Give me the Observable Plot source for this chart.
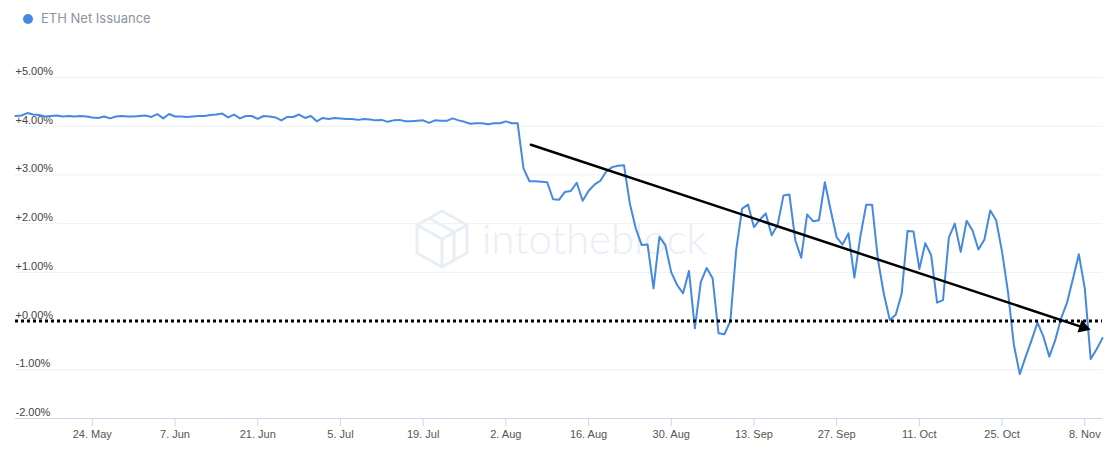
<!DOCTYPE html>
<html><head><meta charset="utf-8">
<script src="https://cdn.jsdelivr.net/npm/d3@7"></script>
<script src="https://cdn.jsdelivr.net/npm/@observablehq/plot@0.6"></script>
<style>
body{margin:0;background:#fff;}
#wrap{position:relative;width:1119px;height:458px;overflow:hidden;background:#fff;}
#legend{position:absolute;left:0;top:0;height:40px;width:100%;font-family:Inter,"Liberation Sans",sans-serif;font-size:13px;color:#8a93a0;}
#legend .dot{position:absolute;left:23px;top:14px;width:10px;height:10px;border-radius:50%;background:#4589e0;}
#legend .lab{position:absolute;left:41px;top:10px;line-height:16px;}
#wm{position:absolute;left:414px;top:208px;width:300px;height:64px;}
#wm svg{position:absolute;left:0;top:0;}
#wm .t{position:absolute;left:68px;top:4px;font-family:Lato,sans-serif;font-weight:300;font-size:42px;color:#e9eef4;line-height:52px;}
#chart{position:absolute;left:0;top:40px;}
#chart svg{display:block;}
</style></head>
<body>
<div id="wrap">
  <div id="wm">
    <svg width="56" height="62" viewBox="0 0 56 62"><g fill="none" stroke="#e9eef4" stroke-width="3" stroke-linejoin="round">
      <polygon points="28,3 53,17 53,45 28,59 3,45 3,17"/>
      <polyline points="3,17 28,31 53,17"/>
      <line x1="28" y1="31" x2="28" y2="59"/>
      <line x1="15" y1="10" x2="40" y2="24"/>
      <line x1="40" y1="24" x2="40" y2="52"/>
    </g></svg>
    <div class="t">intotheblock</div>
  </div>
  <div id="legend"><span class="dot"></span><span class="lab">ETH Net Issuance</span></div>
  <div id="chart"></div>
</div>
<script>
// Daily ETH net issuance (%), starting 11 May 2021
const startDate = "2021-05-11";
const endDate = "2021-11-11";
const issuance = [
  4.21, 4.22, 4.27, 4.24, 4.23, 4.20, 4.21, 4.22, 4.20, 4.21,
  4.20, 4.21, 4.20, 4.18, 4.17, 4.20, 4.16, 4.20, 4.21, 4.20,
  4.20, 4.21, 4.22, 4.19, 4.25, 4.16, 4.25, 4.20, 4.20, 4.19,
  4.20, 4.21, 4.21, 4.23, 4.24, 4.26, 4.18, 4.24, 4.16, 4.21,
  4.21, 4.15, 4.21, 4.20, 4.18, 4.12, 4.19, 4.19, 4.24, 4.17,
  4.21, 4.10, 4.17, 4.15, 4.17, 4.16, 4.15, 4.15, 4.13, 4.15,
  4.14, 4.12, 4.13, 4.09, 4.12, 4.13, 4.10, 4.10, 4.11, 4.12,
  4.07, 4.12, 4.11, 4.11, 4.16, 4.12, 4.09, 4.05, 4.06, 4.06,
  4.04, 4.06, 4.06, 4.10, 4.06, 4.06, 3.13, 2.87, 2.87, 2.86,
  2.85, 2.50, 2.49, 2.65, 2.67, 2.84, 2.47, 2.67, 2.80, 2.88,
  3.07, 3.16, 3.19, 3.20, 2.41, 1.90, 1.56, 1.57, 0.67, 1.73,
  1.56, 1.00, 0.74, 0.57, 1.03, -0.15, 0.80, 1.09, 0.88, -0.25,
  -0.27, 0.00, 1.46, 2.31, 2.39, 1.93, 2.08, 2.21, 1.76, 1.97,
  2.58, 2.60, 1.66, 1.30, 2.19, 2.05, 2.07, 2.85, 2.27, 1.72,
  1.57, 1.80, 0.89, 1.73, 2.39, 2.39, 1.25, 0.55, 0.02, 0.13,
  0.56, 1.85, 1.84, 1.07, 1.60, 1.35, 0.38, 0.43, 1.72, 2.00,
  1.42, 2.06, 1.86, 1.47, 1.67, 2.27, 2.07, 1.42, 0.60, -0.49,
  -1.09, -0.73, -0.39, -0.03, -0.32, -0.73, -0.39, 0.06, 0.38, 0.87,
  1.37, 0.67, -0.78, -0.58, -0.35
];
const yTicks = [-2, -1, 0, 1, 2, 3, 4, 5];
const xTicks = ["2021-05-24","2021-06-07","2021-06-21","2021-07-05","2021-07-19","2021-08-02",
                "2021-08-16","2021-08-30","2021-09-13","2021-09-27","2021-10-11","2021-10-25","2021-11-08"];
// Hand-drawn trend arrow annotation (start and end in data space)
const trendArrow = [{x1: "2021-08-06T06:00", y1: 3.62, x2: "2021-11-09", y2: -0.18}];

const start = new Date(startDate);
const rows = issuance.map((v, i) => ({date: d3.utcDay.offset(start, i), value: v}));
const trend = trendArrow.map(d => ({x1: new Date(d.x1 + "Z"), y1: d.y1, x2: new Date(d.x2), y2: d.y2}));
const fmtY = d => (d >= 0 ? "+" : "") + d.toFixed(2) + "%";

const chart = Plot.plot({
  width: 1119, height: 418,
  marginLeft: 15, marginRight: 17, marginTop: 37, marginBottom: 40,
  style: {background: "transparent", fontFamily: "'Liberation Sans', Arial, sans-serif", fontSize: "11px"},
  x: {type: "utc", domain: [new Date(startDate), new Date(endDate)]},
  y: {domain: [-2, 5], axis: null},
  marks: [
    Plot.ruleY(yTicks.filter(v => v !== -2 && v !== 0), {stroke: "#eef0f4", strokeWidth: 1}),
    Plot.ruleY([-2], {stroke: "#ccd6eb", strokeWidth: 1}),
    Plot.text(yTicks, {y: d => d, text: fmtY, frameAnchor: "left", textAnchor: "start", dy: -6, fill: "#444"}),
    Plot.axisX({ticks: xTicks.map(d => new Date(d)), tickFormat: d3.utcFormat("%-d. %b"), tickSize: 8, tickPadding: 4,
                stroke: "#ccd6eb", fill: "#555", label: null}),
    Plot.line(rows, {x: "date", y: "value", stroke: "#4589e0", strokeWidth: 2}),
    Plot.ruleY([0], {stroke: "#000", strokeWidth: 3, strokeDasharray: "3,3"}),
    Plot.arrow(trend, {x1: "x1", y1: "y1", x2: "x2", y2: "y2", stroke: "#000", strokeWidth: 2.5, headLength: 0, insetEnd: 8}),
    Plot.dot(trend, {x: "x2", y: "y2", symbol: "triangle", r: 5, fill: "#000", stroke: null, rotate: 108.35, dx: -7.4, dy: -2.5})
  ]
});
document.getElementById("chart").appendChild(chart);
</script>
</body></html>
